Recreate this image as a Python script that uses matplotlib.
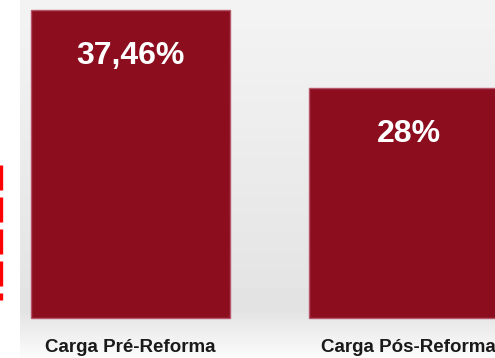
import matplotlib.pyplot as plt
import numpy as np
from matplotlib.lines import Line2D

categorias = ['Carga Pré-Reforma', 'Carga Pós-Reforma']
valores = [37.46, 28.0]
rotulos = ['37,46%', '28%']

plt.rcParams['font.family'] = ['Liberation Sans', 'DejaVu Sans']

fig = plt.figure(figsize=(4.95, 3.58), dpi=100)
fig.patch.set_facecolor('white')

# painel cinza de fundo com degradê
bg = fig.add_axes([20/495, 0, 1 - 20/495, 1])
bg.set_axis_off()
grad = np.concatenate([np.linspace(0.955, 0.89, 310), np.linspace(0.89, 0.985, 48)])
img = np.tile(grad[:, None], (1, 10))
bg.imshow(img, cmap='gray', vmin=0, vmax=1, aspect='auto', extent=[0, 1, 0, 1])
bg.set_xlim(0, 1)
bg.set_ylim(0, 1)

ax = fig.add_axes([0, 0, 1, 1])
ax.set_facecolor('none')
ax.set_axis_off()

x = np.arange(len(categorias))
ax.bar(x, valores, width=0.716, color='#8b0d1e', edgecolor='#b5566a', linewidth=1.0, zorder=3)

for xi, v, r in zip(x, valores, rotulos):
    ax.text(xi, v - 5.6, r, ha='center', va='center', color='white',
            fontsize=23, fontweight='bold', zorder=4)
    ax.text(xi, -3.55, categorias[xi], ha='center', va='center', color='#1a1a1a',
            fontsize=13.5, fontweight='bold')

ax.set_xlim(-0.469, 1.311)
ax.set_ylim(-4.865, 38.676)

# traço vermelho na borda esquerda
fig.lines.append(Line2D([1.2/495, 1.2/495], [193/358, 58/358], transform=fig.transFigure,
                        color='#ff0000', lw=2.4, linestyle=(0, (7.5, 2.1))))

plt.savefig('out.png', dpi=100)
